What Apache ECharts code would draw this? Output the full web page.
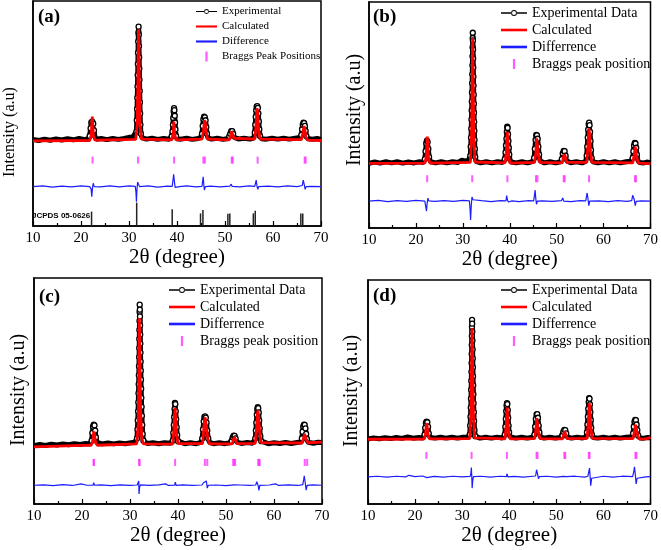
<!DOCTYPE html>
<html><head><meta charset="utf-8">
<script src="https://cdn.jsdelivr.net/npm/echarts@6/dist/echarts.min.js"></script>
<style>html,body{margin:0;padding:0;background:#fff}#c{width:661px;height:550px}</style>
</head><body><div id="c"></div>
<script>
// ---------- Panel (a) ----------
const aExp = [[10,38.5],[11.2,38.0],[12.4,38.6],[13.6,38.1],[14.8,38.7],[16,38.2],[17.2,38.8],[18.4,38.3],[19.6,38.9],[20.8,38.4],[21.5,38.8],
[21.8,40.0],[22.0,43.5],[22.15,46.0],[22.35,46.4],[22.55,45.5],[22.7,42.5],[22.9,39.8],[23.2,38.6],
[24.2,38.9],[25.4,38.4],[26.6,38.9],[27.8,38.5],[29.0,38.9],[30.0,39.4],[30.8,39.6],[31.2,39.7],
[31.55,42],[31.62,47],[31.68,52],[31.73,57],[31.77,62],[31.81,67],[31.85,72],[31.88,77],[31.92,82],[31.96,86],[32.0,88.6],
[32.04,85],[32.08,80],[32.12,75],[32.15,70],[32.19,65],[32.23,60],[32.27,55],[32.32,50],[32.38,45],[32.48,41],[32.7,39.3],
[33.6,38.6],[34.8,39.0],[36.0,38.5],[37.2,38.9],[38.4,38.6],
[38.9,39.9],[39.05,42],[39.15,45],[39.22,48],[39.3,51],[39.38,52.4],[39.46,51.5],[39.53,49],[39.6,46],[39.68,43],[39.8,40],[40.0,38.8],
[40.8,38.6],[42.0,39.0],[43.2,38.5],[44.4,38.9],[45.0,39.5],
[45.2,41],[45.35,44.5],[45.5,47.5],[45.65,48.6],[45.8,48.3],[45.95,47],[46.1,44],[46.25,41],[46.45,39.2],
[47.2,38.6],[48.4,39.0],[49.6,38.5],[50.6,38.9],
[50.9,39.9],[51.1,41],[51.3,42.2],[51.5,42.2],[51.7,41],[51.9,39.4],
[52.8,38.7],[54.0,39.0],[55.2,38.6],[56.0,39.2],
[56.2,41.5],[56.3,45],[56.4,48.5],[56.5,51.5],[56.6,53],[56.72,53.3],[56.85,52.5],[56.95,50],[57.05,46.5],[57.15,43],[57.3,40],[57.6,38.8],
[58.6,38.6],[59.8,39.0],[61.0,38.6],[62.2,39.0],[63.4,38.6],[64.6,39.0],[65.6,39.3],
[65.9,40.5],[66.05,43],[66.2,45],[66.35,45.9],[66.5,45.7],[66.65,44.5],[66.8,42.3],[66.95,40],[67.2,38.9],
[68.2,38.6],[69.2,38.9],[70,38.5]];
const aCalc = [[10,37.8],[21.8,38.0],[22.1,40],[22.25,45],[22.35,48.6],[22.45,45],[22.6,40],[22.9,38.2],
[31.4,38.5],[31.7,45],[31.85,65],[31.95,82],[32.0,87.4],[32.05,82],[32.15,65],[32.3,45],[32.6,38.6],
[38.9,38.3],[39.2,41],[39.35,46.4],[39.5,41],[39.8,38.3],
[45.2,38.6],[45.5,42],[45.75,47.1],[45.9,46],[46.1,41.5],[46.4,38.6],
[50.9,38.3],[51.2,40.5],[51.4,42],[51.6,41.5],[51.85,39],[52.2,38.2],
[56.2,38.6],[56.45,44],[56.65,52.3],[56.8,51],[57.0,43],[57.3,38.6],
[65.9,38.4],[66.2,41],[66.45,44.4],[66.6,43.5],[66.85,39.5],[67.2,38.2],[70,38.0]];
const aDiff = [[10,17.5],[12,17.8],[14,17.3],[16,17.7],[18,17.4],[20,17.8],[21.8,17.5],[22.1,16.5],[22.25,13.0],[22.4,17.0],[22.55,19.0],[22.75,17.5],
[24,17.4],[26,17.8],[28,17.4],[30,17.8],[31.3,17.6],[31.45,15],[31.55,10.8],[31.65,16],[31.8,19.5],[32.0,19.2],[32.2,17.5],
[34,17.8],[36,17.3],[38,17.7],[39.0,17.6],[39.2,21],[39.3,23.0],[39.45,20],[39.6,17.2],[40.5,17.5],[42,17.8],[44,17.4],
[45.2,17.6],[45.35,20],[45.45,21.9],[45.6,18],[45.7,16.0],[45.9,17.5],[47,17.7],[49,17.4],[51,17.7],[51.3,18.6],[51.5,17.6],
[53,17.4],[55,17.8],[56.2,17.6],[56.4,19.5],[56.5,20.4],[56.7,17.3],[56.85,16.3],[57.0,17.5],[59,17.7],[61,17.4],[63,17.8],[65,17.5],
[66.1,18],[66.3,20.4],[66.5,18.5],[66.7,16.3],[66.9,17.5],[68,17.6],[70,17.5]];
const aBragg = [22.4,31.9,39.4,45.5,45.8,51.4,51.6,56.8,66.6,66.8];
const aBraggLevel = 29.3;
const jcpdsPos = [22.2,31.6,39.0,44.9,45.4,50.6,51.0,55.9,56.3,65.8,66.2];
const jcpdsInt = [6.4,10.4,7.4,5.6,7.1,5.5,5.6,5.6,6.8,5.6,5.6];

// ---------- Panel (b) ----------
const bExp = [[10,28.6],[11.2,29.2],[12.4,28.7],[13.6,29.3],[14.8,28.8],[16,29.3],[17.2,28.7],[18.4,29.2],[19.6,28.8],[20.8,29.3],[21.6,29.0],
[21.9,30.5],[22.05,34],[22.2,37.5],[22.35,38.6],[22.5,38.0],[22.65,35],[22.8,31.5],[23.1,29.3],
[24.2,28.8],[25.4,29.3],[26.6,28.8],[27.8,29.3],[29.0,29.0],[29.8,30.0],[30.6,29.6],[31.2,30.0],
[31.6,32],[31.68,36],[31.75,40],[31.8,44],[31.84,48],[31.88,52],[31.92,56],[31.95,60],[31.98,64],[32.01,68],[32.04,72],[32.06,76],[32.08,80],[32.1,84],[32.12,86.4],
[32.15,83],[32.18,79],[32.2,75],[32.23,71],[32.26,67],[32.29,63],[32.32,59],[32.35,55],[32.38,51],[32.42,47],[32.46,43],[32.5,39],[32.56,35],[32.64,31.5],[32.8,29.5],
[33.8,28.8],[35,29.3],[36.2,28.8],[37.4,29.3],[38.5,29.0],
[38.95,30.5],[39.1,33.5],[39.2,36.5],[39.3,39.5],[39.38,42.5],[39.46,44.8],[39.55,44.3],[39.63,41.5],[39.72,38.5],[39.8,35.5],[39.9,32.5],[40.05,30.2],[40.3,29.2],
[41.4,28.8],[42.6,29.3],[43.8,28.8],[44.8,29.4],
[45.2,31],[45.35,35],[45.5,39],[45.65,41.2],[45.8,41.0],[45.95,39.5],[46.1,36],[46.25,32.5],[46.45,29.8],
[47.4,28.8],[48.6,29.3],[49.8,28.8],[50.8,29.3],
[51.1,30.5],[51.3,33],[51.5,34.1],[51.7,34.0],[51.9,32],[52.1,29.8],
[53.0,28.9],[54.2,29.3],[55.4,28.8],[56.2,29.5],
[56.4,32],[56.52,36],[56.62,40],[56.72,43.5],[56.82,46],[56.92,46.6],[57.02,45.5],[57.12,42.5],[57.22,38.5],[57.32,34.5],[57.45,31],[57.7,29.3],
[58.8,28.8],[60,29.3],[61.2,28.8],[62.4,29.3],[63.6,28.8],[64.8,29.3],[65.8,29.5],
[66.2,31],[66.35,34],[66.5,36.5],[66.65,37.7],[66.8,37.4],[66.95,35.5],[67.1,32.5],[67.3,30],[67.6,29.0],
[68.6,28.8],[69.4,29.2],[70,28.8]];
const bCalc = [[10,28.6],[21.9,28.7],[22.15,31],[22.3,36],[22.42,40.4],[22.55,36],[22.7,30.5],[23.0,28.7],
[31.6,29.0],[31.85,40],[32.0,65],[32.1,83.9],[32.2,65],[32.35,40],[32.6,29.2],
[39.0,28.8],[39.25,33],[39.4,40],[39.48,42.6],[39.6,38],[39.8,31],[40.1,28.7],
[45.3,29.0],[45.55,33],[45.75,39.7],[45.9,39],[46.1,33],[46.4,29],
[51.2,28.8],[51.45,31.5],[51.65,32.7],[51.85,31.5],[52.1,29],
[56.4,29.0],[56.65,36],[56.85,44.1],[57.0,42],[57.2,34],[57.5,29],
[66.2,28.8],[66.5,32],[66.75,36.0],[66.9,35.5],[67.1,31],[67.4,28.7],[70,28.5]];
const bDiff = [[10,11.9],[12,12.2],[14,11.7],[16,12.1],[18,11.8],[20,12.2],[21.9,11.9],[22.1,11.2],[22.25,7.5],[22.4,11],[22.55,13.2],[22.75,12],
[24,11.8],[26,12.1],[28,11.8],[30,12.2],[31.4,12],[31.55,8],[31.65,3.5],[31.8,10],[31.95,13.7],[32.15,12.5],[32.4,11.9],
[34,12.1],[36,11.7],[38,12.1],[39.2,12],[39.35,14.3],[39.5,12.5],[39.7,11.5],[40.5,12],[42,11.7],[44,12.1],
[45.1,12.0],[45.3,15],[45.4,16.8],[45.55,13],[45.7,10.5],[45.9,11.9],[47,12.0],[49,11.8],[51,12.1],[51.3,13.3],[51.5,11.9],
[53,11.7],[55,12.1],[56.2,12.0],[56.4,14.5],[56.5,15.5],[56.7,12.5],[56.85,9.9],[57.05,11.9],[59,12.0],[61,11.7],[63,12.1],[65,11.8],
[66.0,12.1],[66.2,14.5],[66.35,15.3],[66.55,12.5],[66.75,9.9],[66.95,11.8],[68,12.0],[70,11.9]];
const bBragg = [22.4,32.0,39.5,45.6,45.9,51.5,51.7,56.9,66.7,66.9];
const bBraggLevel = 21.8;

// ---------- Panel (c) ----------
const cExp = [[10,25.8],[11.2,26.3],[12.4,25.9],[13.6,26.5],[14.8,26.1],[16,26.6],[17.2,26.2],[18.4,26.7],[19.6,26.3],[20.8,26.8],[21.6,26.6],
[22.0,28],[22.15,31.5],[22.3,34.2],[22.45,35.1],[22.6,34.8],[22.75,32.5],[22.9,29.5],[23.15,27.2],
[24.2,26.6],[25.4,27.0],[26.6,26.6],[27.8,27.0],[29.0,26.7],[30.2,27.1],[31.0,27.3],
[31.45,29],[31.55,33],[31.62,37],[31.68,41],[31.73,45],[31.77,49],[31.81,53],[31.84,57],[31.87,61],[31.9,65],[31.92,69],[31.94,73],[31.96,77],[31.98,81],[32.0,85],[32.02,88.2],
[32.05,86],[32.08,83],[32.1,79],[32.13,75],[32.16,71],[32.19,67],[32.22,63],[32.25,59],[32.29,55],[32.33,51],[32.37,47],[32.42,43],[32.48,39],[32.55,35],[32.64,31],[32.8,28],
[33.6,26.8],[34.8,27.1],[36,26.7],[37.2,27.1],[38.4,26.9],
[38.9,28],[39.02,31.5],[39.12,35],[39.2,38.5],[39.28,42],[39.36,44.7],[39.45,44.2],[39.53,41],[39.62,37.5],[39.72,34],[39.83,30.5],[40.0,27.8],[40.3,27.0],
[41.4,26.7],[42.6,27.1],[43.8,26.7],[44.8,27.3],
[45.05,29],[45.2,33],[45.35,36.5],[45.5,38.5],[45.65,38.8],[45.8,38.2],[45.95,36],[46.1,32.5],[46.3,29],[46.55,27.3],
[47.4,26.7],[48.6,27.1],[49.8,26.7],[50.8,27.1],
[51.2,27.8],[51.4,29.5],[51.6,30.2],[51.8,30.1],[52.0,29],[52.25,27.4],
[53.2,26.8],[54.4,27.2],[55.6,26.9],[56.0,27.4],
[56.1,29],[56.22,32.5],[56.32,36],[56.42,39.5],[56.52,42],[56.62,42.8],[56.72,42.4],[56.82,40.5],[56.92,37],[57.02,33.5],[57.15,30],[57.35,27.8],[57.7,27.0],
[58.8,26.7],[60,27.1],[61.2,26.8],[62.4,27.2],[63.6,26.8],[64.8,27.2],[65.7,27.4],
[65.8,29],[65.95,32],[66.1,34.3],[66.25,35.1],[66.4,35.0],[66.55,33.5],[66.7,31],[66.85,28.8],[67.1,27.3],
[68.2,26.9],[69.2,27.3],[70,27.2]];
const cCalc = [[10,25.3],[15,25.6],[20,25.9],[21.9,26.0],[22.2,27.5],[22.4,31],[22.5,32.1],[22.65,30],[22.85,27],[23.2,26.0],
[31.4,26.6],[31.7,35],[31.85,60],[31.95,82.3],[32.05,68],[32.2,42],[32.45,29],[32.8,26.6],
[38.9,26.5],[39.15,33],[39.3,40],[39.38,42.5],[39.5,39],[39.7,31],[40.0,26.7],
[45.1,26.7],[45.3,31],[45.5,37],[45.65,38.3],[45.8,37.5],[46.0,33],[46.25,28.5],[46.6,26.6],
[51.3,26.6],[51.55,28.5],[51.75,29.6],[51.95,28.6],[52.3,26.7],
[56.1,26.8],[56.35,33],[56.55,40],[56.65,41.4],[56.8,39],[57.0,32],[57.3,27.2],
[65.9,27.0],[66.15,29],[66.35,31],[66.5,30.6],[66.75,28.5],[67.1,27.1],[70,27.4]];
const cDiff = [[10,8.3],[12,8.5],[14,8.1],[16,8.6],[18,8.2],[19.8,8.9],[21,8.3],[22.3,8.3],[22.45,9.4],[22.6,8.3],[24,8.5],[26,8.1],[28,8.5],[30,8.2],
[31.5,8.4],[31.7,9.2],[31.82,10.2],[31.88,4.4],[32.0,7.5],[32.2,8.5],[34,8.2],[36,8.5],[37.4,8.9],[38,8.2],[39.3,8.3],[39.45,9.7],[39.6,8.2],
[41,8.5],[43,8.2],[45.0,8.4],[45.3,9.4],[45.5,9.8],[45.7,8.8],[45.9,10.2],[46.1,7.0],[46.3,8.3],[48,8.4],[50,8.1],[51.7,8.5],[52,7.9],[53,8.4],[55,8.2],
[56.2,8.4],[56.4,9.9],[56.5,10.2],[56.7,8.2],[56.85,6.0],[57.05,8.2],[59,8.4],[60.3,8.9],[61,8.2],[63,8.5],[65,8.2],
[66.0,8.6],[66.2,11],[66.3,12.5],[66.5,9.5],[66.7,6.1],[66.9,8.2],[68,8.5],[70,8.3]];
const cBragg = [22.4,22.5,31.9,32.0,39.4,45.6,46.1,51.5,51.7,51.9,56.7,56.9,57.0,66.4,66.9];
const cBraggLevel = 18.4;

// ---------- Panel (d) ----------
const dExp = [[10,29.0],[11.2,29.5],[12.4,29.1],[13.6,29.6],[14.8,29.2],[16,29.7],[17.2,29.3],[18.4,29.9],[19.6,29.4],[20.8,29.7],[21.7,29.5],
[22.0,31],[22.15,34],[22.3,36.2],[22.45,36.8],[22.6,36.5],[22.75,34.5],[22.9,31.5],[23.15,29.8],
[24.2,29.4],[25.4,29.8],[26.6,29.4],[27.8,29.8],[29.0,29.4],[30.2,29.8],[31.2,29.8],
[31.6,31],[31.7,35],[31.77,39],[31.83,43],[31.87,47],[31.91,51],[31.94,55],[31.97,59],[32.0,63],[32.02,67],[32.04,71],[32.06,75],[32.08,79],[32.1,82.2],
[32.13,80.5],[32.16,77],[32.19,73],[32.22,69],[32.25,65],[32.28,61],[32.31,57],[32.35,53],[32.39,49],[32.43,45],[32.48,41],[32.54,37],[32.62,33],[32.78,30.3],
[33.8,29.4],[35,29.8],[36.2,29.4],[37.4,29.8],[38.6,29.5],
[39.05,31],[39.17,34.5],[39.27,38],[39.35,41.5],[39.43,44],[39.52,45],[39.6,44.6],[39.68,42],[39.77,38.5],[39.86,35],[39.97,32],[40.15,30],[40.4,29.5],
[41.4,29.4],[42.6,29.8],[43.8,29.4],[44.9,29.8],
[45.35,31],[45.5,34.5],[45.65,38],[45.8,40.0],[45.95,40.1],[46.1,38.5],[46.25,35],[46.4,32],[46.6,30],
[47.4,29.4],[48.6,29.8],[49.8,29.4],[50.9,29.8],
[51.3,30.5],[51.5,32.3],[51.7,33.1],[51.9,33.0],[52.1,31.5],[52.35,29.9],
[53.2,29.4],[54.4,29.8],[55.6,29.5],[56.3,29.9],
[56.5,32],[56.6,35.5],[56.7,39],[56.78,42.5],[56.87,45.5],[56.96,47.3],[57.05,47],[57.14,44.5],[57.23,41],[57.32,37.5],[57.42,34],[57.55,31],[57.8,29.7],
[58.8,29.4],[60,29.8],[61.2,29.4],[62.4,29.8],[63.6,29.4],[64.8,29.8],[66.1,30.0],
[66.3,31.5],[66.45,34.5],[66.6,36.8],[66.75,37.6],[66.9,37.4],[67.05,35.5],[67.2,33],[67.4,30.5],[67.7,29.5],
[68.6,29.4],[69.4,29.7],[70,29.6]];
const dCalc = [[10,28.9],[21.9,29.0],[22.2,31],[22.38,35],[22.48,36.1],[22.6,34],[22.8,30.5],[23.1,29.1],
[31.6,29.2],[31.85,40],[32.0,62],[32.12,78.5],[32.22,62],[32.38,40],[32.65,29.5],
[39.1,29.1],[39.35,35],[39.48,40.5],[39.55,43.2],[39.68,39],[39.9,31.5],[40.2,29.1],
[45.4,29.2],[45.65,33],[45.85,38.3],[46.0,37.5],[46.2,32.5],[46.5,29.2],
[51.35,29.1],[51.6,31.5],[51.78,32.4],[51.95,31.3],[52.25,29.2],
[56.55,29.3],[56.8,37],[56.98,45],[57.1,43.5],[57.3,35],[57.6,29.3],
[66.3,29.2],[66.6,32.5],[66.82,35.4],[66.97,35],[67.2,31.5],[67.5,29.2],[68.5,29.0],[69.5,29.3],[70,29.8]];
const dDiff = [[10,12.1],[12,12.4],[14,12.0],[16,12.4],[18,12.1],[18.7,12.8],[20,12.2],[21.6,12.5],[22,12.1],[22.5,11.8],[24,12.3],[26,12.0],[28,12.4],[30,12.1],
[31.7,12.3],[31.85,13.5],[31.95,16.3],[32.05,12],[32.12,7.1],[32.25,10.5],[32.4,12.2],[34,12.4],[36,12.0],[38,12.4],
[39.4,12.2],[39.55,13.5],[39.7,12.1],[41,12.3],[43,12.0],[45,12.4],[45.6,12.5],[45.8,15.3],[46.0,13.5],[46.2,11.3],[46.4,12.2],
[48,12.4],[50,12.0],[51.5,12.3],[51.8,11.6],[52.2,12.2],[54,12.4],[56,12.0],[56.7,12.4],[56.9,14.5],[57.05,16.0],[57.2,11.5],[57.3,8.2],[57.5,11.5],[57.8,12.2],
[60,12.4],[62,12.0],[64,12.4],[66.2,12.2],[66.45,14.5],[66.6,16.6],[66.8,12.5],[66.95,9.0],[67.15,11.5],[67.4,12.3],[69,12.1],[70,12.2]];
const dBragg = [22.4,32.0,39.5,45.8,46.0,51.7,51.9,56.9,57.05,66.8,67.0];
const dBraggLevel = 21.7;

// ---------- Text ----------
const panelLabels = ['(a)','(b)','(c)','(d)'];
const xTitle = '2θ (degree)';
const yTitle = 'Intensity (a.u)';
const jcpdsLabel = 'JCPDS 05-0626';
const expNames = ['Experimental','Experimental Data','Experimental Data','Experimental Data'];
const calcName = 'Calculated';
const diffNames = ['Difference','Differrence','Differrence','Differrence'];
const braggNames = ['Braggs Peak Positions','Braggs peak position','Braggs peak position','Braggs peak position'];
const xTicks = {min:10, max:70, interval:10};

// ---------- Build ----------
const serif = "'Liberation Serif','Times New Roman',serif";
const panels = [
  {exp:aExp, calc:aCalc, diff:aDiff, bragg:aBragg, level:aBraggLevel, thr:39.8},
  {exp:bExp, calc:bCalc, diff:bDiff, bragg:bBragg, level:bBraggLevel, thr:30.3},
  {exp:cExp, calc:cCalc, diff:cDiff, bragg:cBragg, level:cBraggLevel, thr:27.5},
  {exp:dExp, calc:dCalc, diff:dDiff, bragg:dBragg, level:dBraggLevel, thr:30.1}
];
const grids = [
  {left:33, top:1, width:288, height:225},
  {left:369, top:2, width:283, height:226},
  {left:34, top:278, width:288, height:226},
  {left:368, top:280, width:284, height:224}
];
const legendPos = [
  {left:196, top:6, itemWidth:21, fs:11, gap:4},
  {left:501, top:6, itemWidth:26, fs:14, gap:3},
  {left:169, top:283, itemWidth:26, fs:14, gap:3},
  {left:501, top:283, itemWidth:26, fs:14, gap:3}
];
const lineIcon = 'path://M0 0H12V1.2H0Z';
const tickIcon = 'path://M0 0H1V4.5H0Z';
const expIcon = 'path://M0 4.3H10.3V5.7H0Z M15.7 4.3H26V5.7H15.7Z M16 5A3 3 0 1 0 10 5A3 3 0 1 0 16 5Z M15 5A2 2 0 1 1 11 5A2 2 0 1 1 15 5Z M13 0.01V0.02Z M13 9.98V9.99Z';
const series = [], xAxis = [], yAxis = [], legend = [];
panels.forEach((p, i) => {
  xAxis.push({type:'value', gridIndex:i, min:xTicks.min, max:xTicks.max, interval:xTicks.interval,
    axisLine:{show:true, lineStyle:{color:'#000', width:1.5}},
    axisTick:{show:true, inside:true, length:5, lineStyle:{color:'#000', width:1.2}},
    minorTick:{show:true, splitNumber:2, length:3, lineStyle:{color:'#000', width:1.2}},
    splitLine:{show:false},
    axisLabel:{color:'#000', fontFamily:serif, fontSize:15, margin:5, showMinLabel:true, showMaxLabel:true},
    name:xTitle, nameLocation:'middle', nameGap:i<2?19:18,
    nameTextStyle:{color:'#000', fontFamily:serif, fontSize:21}});
  yAxis.push({type:'value', gridIndex:i, min:0, max:100,
    axisLine:{show:true, lineStyle:{color:'#000', width:1.5}}, axisTick:{show:false}, axisLabel:{show:false}, splitLine:{show:false}});
  series.push({type:'line', name:expNames[i], xAxisIndex:i, yAxisIndex:i, z:2,
    data:p.exp.map(([x,y]) => ({value:[x,y], symbol: y > p.thr ? 'circle' : 'none'})),
    symbol:'circle', symbolSize:5, showAllSymbol:true,
    lineStyle:{color:'#000', width:5}, itemStyle:{color:'#fff', borderColor:'#000', borderWidth:1.3}});
  series.push({type:'line', name:calcName, xAxisIndex:i, yAxisIndex:i, z:3, data:p.calc, symbol:'none',
    lineStyle:{color:'#ff0000', width:2.8}, itemStyle:{color:'#ff0000'}});
  series.push({type:'line', name:diffNames[i], xAxisIndex:i, yAxisIndex:i, z:3, data:p.diff, symbol:'none',
    lineStyle:{color:'#1c1cff', width:1.2}, itemStyle:{color:'#1c1cff'}});
  series.push({type:'scatter', name:braggNames[i], xAxisIndex:i, yAxisIndex:i, z:3,
    data:p.bragg.map(x => [x, p.level]), symbol:'rect', symbolSize:[2,7], itemStyle:{color:'#ff33ff'}});
  const L = legendPos[i];
  legend.push({orient:'vertical', left:L.left, top:L.top, itemWidth:L.itemWidth, itemHeight:10, itemGap:L.gap,
    selectedMode:false, padding:0, textStyle:{color:'#000', fontFamily:serif, fontSize:L.fs},
    data:[{name:expNames[i], icon:expIcon, itemStyle:{color:'#000', borderWidth:0}},
          {name:calcName, icon:lineIcon}, {name:diffNames[i], icon:lineIcon}, {name:braggNames[i], icon:tickIcon}]});
});
series.push({type:'custom', name:'JCPDS', xAxisIndex:0, yAxisIndex:0, z:3,
  data: jcpdsPos.map((x, k) => [x, jcpdsInt[k]]),
  renderItem:(params, api) => {
    const p0 = api.coord([api.value(0), 0]);
    const p1 = api.coord([api.value(0), api.value(1)]);
    return {type:'line', shape:{x1:p0[0], y1:p0[1], x2:p1[0], y2:p1[1]}, style:{stroke:'#222', lineWidth:1.5}};
  }});

const graphic = [];
const labelPos = [[38,17],[373,17],[39,297],[373,296]];
panelLabels.forEach((t, i) => graphic.push({type:'text', x:labelPos[i][0], y:labelPos[i][1],
  style:{text:t, font:"bold 19px " + serif, fill:'#000', textVerticalAlign:'middle'}}));
const yTitlePos = [[10,132,16],[355,110,20],[19,390,20],[352,391,20]];
yTitlePos.forEach(([x,y,fs]) => graphic.push({type:'text', x:x, y:y, rotation:Math.PI/2,
  style:{text:yTitle, font:fs + "px " + serif, fill:'#000', textAlign:'center', textVerticalAlign:'middle'}}));
graphic.push({type:'text', x:32, y:216, z:10, style:{text:jcpdsLabel, font:"bold 8px 'Liberation Sans',Arial,sans-serif", fill:'#000', textVerticalAlign:'middle'}});

const chart = echarts.init(document.getElementById('c'), null, {renderer:'canvas'});
chart.setOption({animation:false, backgroundColor:'#fff',
  grid: grids.map(g => Object.assign({show:true, borderColor:'#000', borderWidth:1.5, backgroundColor:'transparent'}, g)),
  xAxis, yAxis, legend, series, graphic});
</script></body></html>
